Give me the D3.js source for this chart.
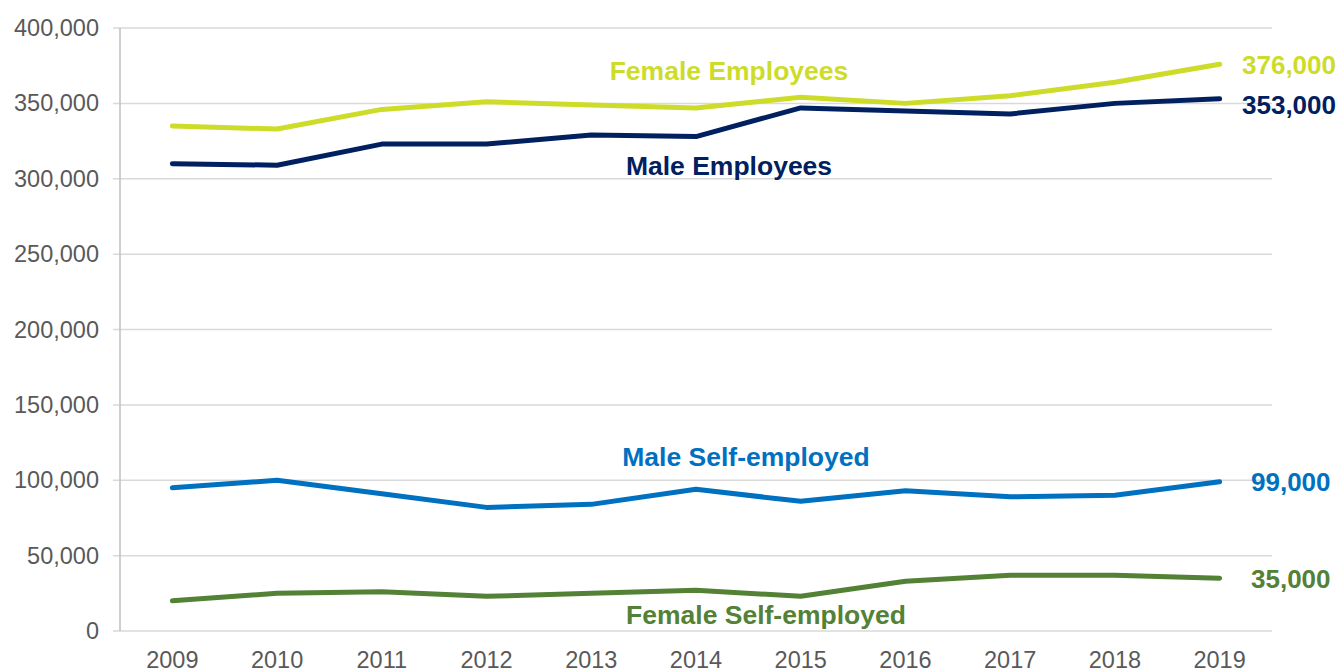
<!DOCTYPE html>
<html><head><meta charset="utf-8">
<script src="https://cdn.jsdelivr.net/npm/d3@7"></script>
<style>body{margin:0;background:#fff}svg{display:block}text{font-family:"Liberation Sans",Arial,sans-serif}</style>
</head><body><svg id="c" width="1338" height="670"></svg>
<script>
const years = ["2009","2010","2011","2012","2013","2014","2015","2016","2017","2018","2019"];
const femaleEmployees = [335000,333000,346000,351000,349000,347000,354000,350000,355000,364000,376000];
const maleEmployees = [310000,309000,323000,323000,329000,328000,347000,345000,343000,350000,353000];
const maleSelfEmployed = [95000,100000,91000,82000,84000,94000,86000,93000,89000,90000,99000];
const femaleSelfEmployed = [20000,25000,26000,23000,25000,27000,23000,33000,37000,37000,35000];
const yTicks = [0,50000,100000,150000,200000,250000,300000,350000,400000];
const seriesNames = ["Female Employees","Male Employees","Male Self-employed","Female Self-employed"];
const endLabels = ["376,000","353,000","99,000","35,000"];

const svg = d3.select("#c");
const x = d3.scalePoint().domain(years).range([120,1272]).padding(0.5);
const y = d3.scaleLinear().domain([0,400000]).range([631,28]);

svg.append("g").selectAll("line").data(yTicks).join("line")
  .attr("x1",113).attr("x2",1272).attr("y1",d=>y(d)).attr("y2",d=>y(d))
  .attr("stroke","#d9d9d9").attr("stroke-width",1.5);
svg.append("line").attr("x1",120).attr("x2",120).attr("y1",y(400000)).attr("y2",y(0))
  .attr("stroke","#bfbfbf").attr("stroke-width",1.5);

const fmt = d3.format(",");
svg.append("g").selectAll("text").data(yTicks).join("text")
  .attr("x",99).attr("y",d=>y(d)+8).attr("text-anchor","end")
  .attr("font-size",23.5).attr("fill","#595959").text(d=>fmt(d));
svg.append("g").selectAll("text").data(years).join("text")
  .attr("x",d=>x(d)).attr("y",668).attr("text-anchor","middle")
  .attr("font-size",23.5).attr("fill","#595959").text(d=>d);

const series = [
  {name:seriesNames[0], vals:femaleEmployees, color:"#cddc29", lx:729, ly:80, end:endLabels[0], ex:1242, ey:74},
  {name:seriesNames[1], vals:maleEmployees, color:"#002060", lx:729, ly:175, end:endLabels[1], ex:1242, ey:114},
  {name:seriesNames[2], vals:maleSelfEmployed, color:"#0070c0", lx:746, ly:466, end:endLabels[2], ex:1251, ey:491},
  {name:seriesNames[3], vals:femaleSelfEmployed, color:"#538135", lx:766, ly:624, end:endLabels[3], ex:1251, ey:588}
];
const line = d3.line().x((d,i)=>x(years[i])).y(d=>y(d));
series.forEach(s=>{
  svg.append("path").attr("d",line(s.vals)).attr("fill","none")
    .attr("stroke",s.color).attr("stroke-width",5).attr("stroke-linecap","round").attr("stroke-linejoin","round");
  svg.append("text").attr("x",s.lx).attr("y",s.ly).attr("text-anchor","middle")
    .attr("font-size",26.5).attr("font-weight","bold").attr("fill",s.color).text(s.name);
  svg.append("text").attr("x",s.ex).attr("y",s.ey)
    .attr("font-size",26).attr("font-weight","bold").attr("fill",s.color).text(s.end);
});
</script></body></html>
